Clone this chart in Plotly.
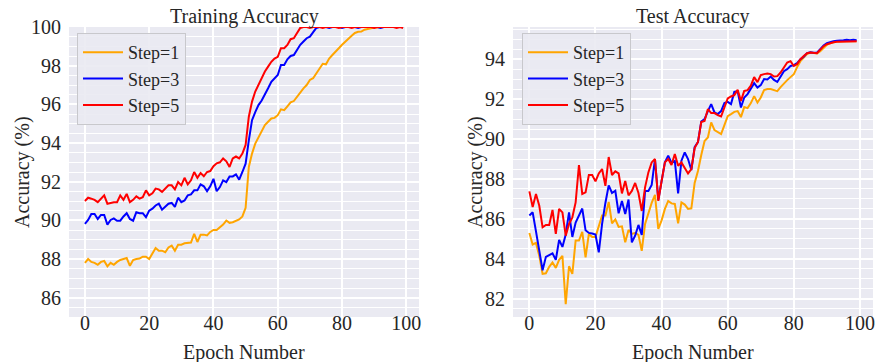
import plotly.graph_objects as go

epochs = list(range(100))
labels = ["Step=1", "Step=3", "Step=5"]
colors = ["#FFA500", "#0000FF", "#FF0000"]

train_step1 = [87.8, 88.0, 87.85, 87.8, 87.7, 87.85, 87.9, 87.62, 87.8, 87.7,
               87.85, 87.95, 88.0, 88.05, 87.65, 87.95, 88.0, 88.02, 88.12, 88.12,
               88.0, 88.3, 88.57, 88.43, 88.43, 88.35, 88.6, 88.69, 88.43, 88.74,
               88.74, 88.81, 88.85, 88.85, 89.3, 88.88, 89.26, 89.26, 89.22, 89.4,
               89.5, 89.5, 89.64, 89.78, 89.99, 89.87, 89.9, 89.99, 90.05, 90.2,
               90.65, 92.76, 93.45, 93.97, 94.3, 94.67, 94.93, 95.1, 95.27, 95.3,
               95.44, 95.74, 95.7, 95.9, 96.1, 96.17, 96.4, 96.65, 96.83, 97.0,
               97.26, 97.35, 97.6, 97.8, 98.1, 98.07, 98.37, 98.55, 98.7, 98.9,
               99.08, 99.25, 99.4, 99.55, 99.69, 99.75, 99.76, 99.86, 99.9, 99.95,
               99.97, 99.98, 100.0, 100.0, 100.0, 100.0, 100.0, 100.0, 100.0, 100.0]
train_step3 = [89.82, 90.02, 90.33, 90.33, 90.07, 90.28, 90.28, 89.78, 90.02, 90.1,
               89.98, 89.98, 90.2, 90.37, 90.07, 89.98, 90.42, 90.37, 90.37, 90.16,
               90.5, 90.6, 90.77, 90.86, 90.55, 90.72, 90.86, 90.9, 90.7, 91.17,
               90.94, 91.03, 91.29, 91.34, 91.55, 91.55, 91.86, 91.76, 91.51, 91.76,
               92.15, 91.51, 91.72, 92.07, 91.98, 92.27, 92.27, 92.38, 92.1, 92.5,
               92.93, 94.14, 95.18, 95.6, 95.96, 96.2, 96.48, 96.83, 97.17, 97.35,
               97.52, 98.04, 98.04, 98.33, 98.5, 98.55, 98.8, 99.08, 99.25, 99.42,
               99.5, 99.72, 99.95, 100.0, 100.0, 100.0, 99.95, 100.0, 100.0, 100.0,
               99.95, 100.0, 100.0, 100.0, 100.0, 99.95, 100.0, 100.0, 100.0, 100.0,
               100.0, 100.0, 99.95, 100.0, 100.0, 100.0, 100.0, 100.0, 100.0, 100.0]
train_step5 = [91.0, 91.17, 91.12, 91.06, 90.94, 91.12, 91.29, 90.86, 90.9, 90.94,
               90.94, 91.29, 91.06, 91.37, 90.94, 91.06, 91.24, 91.12, 91.2, 91.55,
               91.29, 91.4, 91.64, 91.6, 91.47, 91.64, 91.81, 91.81, 91.6, 91.98,
               91.81, 92.2, 91.86, 92.07, 92.5, 92.2, 92.45, 92.28, 92.5, 92.55,
               92.8, 92.95, 93.0, 93.2, 93.05, 92.76, 93.2, 93.3, 93.2, 93.45,
               93.9, 95.36, 96.14, 96.66, 97.0, 97.35, 97.7, 97.95, 98.2, 98.37,
               98.46, 98.9, 98.9, 99.07, 99.37, 99.42, 99.68, 99.95, 100.0, 100.0,
               99.95, 100.0, 100.0, 100.0, 99.95, 100.0, 100.0, 100.0, 100.0, 99.95,
               100.0, 100.0, 100.0, 99.95, 100.0, 100.0, 100.0, 100.0, 100.0, 100.0,
               99.95, 100.0, 100.0, 100.0, 100.0, 100.0, 100.0, 99.95, 100.0, 99.95]

test_step1 = [85.3, 84.72, 84.8, 84.15, 83.25, 83.28, 83.6, 83.82, 83.55, 83.95,
              84.15, 81.73, 83.63, 83.25, 84.92, 84.92, 85.35, 84.08, 85.25, 85.1,
              85.1, 85.7, 86.17, 86.17, 86.85, 85.78, 85.98, 85.6, 85.63, 84.83,
              85.45, 85.25, 85.3, 85.2, 84.4, 85.75, 86.3, 86.8, 87.2, 85.5,
              85.93, 86.5, 86.9, 86.78, 86.75, 85.78, 86.83, 86.72, 86.5, 86.53,
              87.8, 88.4, 89.2, 89.9, 90.08, 90.83, 90.45, 90.35, 90.25, 90.7,
              91.15, 91.25, 91.36, 91.4, 91.1, 91.6, 91.55, 91.8, 92.15, 91.83,
              92.08, 92.45, 92.5, 92.5, 92.45, 92.4, 92.6, 92.8, 92.95, 93.1,
              93.25, 93.6, 93.9, 94.08, 94.25, 94.33, 94.3, 94.28, 94.4, 94.58,
              94.72, 94.8, 94.85, 94.88, 94.88, 94.9, 94.9, 94.9, 94.9, 94.9]
test_step3 = [86.17, 86.33, 85.38, 84.33, 83.43, 84.1, 84.2, 84.28, 83.95, 84.95,
              84.6, 85.22, 86.33, 85.1, 85.82, 86.17, 86.52, 85.43, 85.3, 85.27,
              85.22, 84.33, 85.75, 86.8, 87.68, 87.3, 87.41, 86.28, 86.9, 86.25,
              86.97, 84.83, 85.16, 85.7, 85.2, 87.4, 87.4, 87.7, 89.0, 86.95,
              88.0, 88.83, 89.17, 88.8, 88.9, 87.28, 88.92, 89.33, 89.0, 88.45,
              89.6, 89.85, 90.88, 91.0, 91.4, 91.75, 91.33, 91.25, 91.4, 91.8,
              91.86, 91.75, 92.36, 92.4, 91.58, 92.08, 92.25, 92.53, 92.8, 92.58,
              92.7, 93.0, 92.98, 93.13, 92.96, 92.86, 93.13, 93.4, 93.5, 93.66,
              93.7, 93.8, 94.0, 94.12, 94.3, 94.35, 94.32, 94.32, 94.5, 94.68,
              94.8, 94.87, 94.9, 94.92, 94.95, 94.95, 94.97, 94.95, 94.97, 94.95]
test_step5 = [87.38, 86.6, 87.25, 86.66, 85.58, 85.7, 85.7, 86.45, 85.25, 86.5,
              86.33, 85.16, 85.75, 86.08, 86.83, 88.7, 87.25, 87.33, 88.2, 88.2,
              87.88, 88.28, 88.5, 87.66, 89.1, 88.2, 88.38, 88.28, 87.28, 87.9,
              87.18, 87.4, 87.8, 87.3, 86.4, 87.58, 88.33, 88.83, 89.0, 86.9,
              87.9, 88.83, 89.0, 88.7, 89.25, 88.66, 88.83, 88.55, 88.28, 88.5,
              89.55, 89.85, 90.85, 90.9, 91.5, 91.3, 91.3, 91.2, 91.13, 91.58,
              92.03, 92.13, 92.2, 92.46, 91.91, 92.41, 92.45, 92.67, 93.1, 92.85,
              93.2, 93.25, 93.28, 93.25, 93.13, 93.15, 93.33, 93.58, 93.83, 93.9,
              93.66, 93.75, 94.0, 94.16, 94.3, 94.33, 94.3, 94.3, 94.48, 94.65,
              94.75, 94.82, 94.85, 94.87, 94.87, 94.88, 94.88, 94.88, 94.88, 94.9]

train_series = [train_step1, train_step3, train_step5]
test_series = [test_step1, test_step3, test_step5]

FONT = "Times New Roman"
TXT = "#262626"
BG = "#EAEAF2"

fig = go.Figure()
for lab, col, ys in zip(labels, colors, train_series):
    fig.add_trace(go.Scatter(x=epochs, y=ys, mode="lines", name=lab,
                             line=dict(color=col, width=2),
                             xaxis="x", yaxis="y", legend="legend"))
for lab, col, ys in zip(labels, colors, test_series):
    fig.add_trace(go.Scatter(x=epochs, y=ys, mode="lines", name=lab,
                             line=dict(color=col, width=2),
                             xaxis="x2", yaxis="y2", legend="legend2"))

W, H = 878, 362
def px(x):
    return x / W
def py(y):
    return 1 - y / H

ydom = [py(317), py(27)]
def tick_font():
    return dict(family=FONT, size=20, color=TXT)
def common_x():
    return dict(range=[-4.95, 103.95], tickmode="linear", tick0=0, dtick=20,
                showgrid=True, gridcolor="white", gridwidth=1.8, zeroline=False,
                showline=False, ticks="", ticklabelstandoff=-8,
                tickfont=tick_font(), automargin=False, fixedrange=True)
def common_y():
    return dict(showgrid=True, gridcolor="white", gridwidth=1.8, zeroline=False,
                showline=False, ticks="", ticklabelstandoff=7,
                tickfont=tick_font(),
                minor=dict(dtick=0.5, showgrid=True, gridcolor="white", gridwidth=0.9),
                automargin=False, fixedrange=True)
def legend_common():
    return dict(font=dict(family=FONT, size=18, color=TXT), bgcolor="rgba(234,234,242,0.9)",
                bordercolor="#C8C8CC", borderwidth=1, xanchor="left", yanchor="top",
                itemwidth=40)

def title_ann(text, x, y, angle=0):
    return dict(text=text, x=px(x), y=py(y), xref="paper", yref="paper",
                xanchor="center", yanchor="middle", textangle=angle,
                showarrow=False, font=dict(family=FONT, size=20, color=TXT))

fig.update_layout(
    width=W, height=H,
    margin=dict(l=0, r=0, t=0, b=0),
    font=dict(family=FONT, color=TXT),
    paper_bgcolor="white", plot_bgcolor=BG,
    xaxis=dict(domain=[px(69), px(419)], anchor="y", **common_x()),
    yaxis=dict(domain=ydom, anchor="x", range=[85, 100], tickmode="linear", tick0=86, dtick=2, **common_y()),
    xaxis2=dict(domain=[px(513), px(873)], anchor="y2", **common_x()),
    yaxis2=dict(domain=ydom, anchor="x2", range=[81.09, 95.61], tickmode="linear", tick0=82, dtick=2, **common_y()),
    legend=dict(x=px(77), y=py(33), **legend_common()),
    legend2=dict(x=px(522), y=py(33), **legend_common()),
    annotations=[
        title_ann("Training Accuracy", 244, 16),
        title_ann("Test Accuracy", 693, 16),
        title_ann("Epoch Number", 244, 352),
        title_ann("Epoch Number", 693, 352),
        title_ann("Accuracy (%)", 22, 172, -90),
        title_ann("Accuracy (%)", 475, 172, -90),
    ],
)

fig.write_html("out.html")
